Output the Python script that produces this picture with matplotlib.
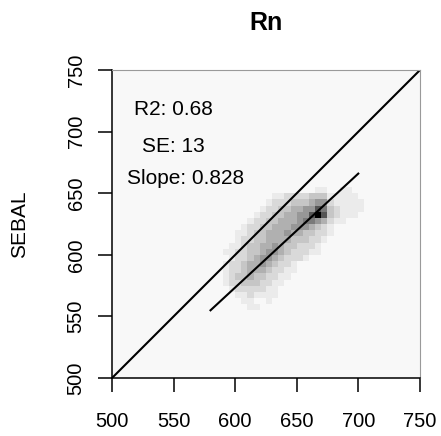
#!/usr/bin/env python

import numpy as np
import matplotlib
matplotlib.use('Agg')
import matplotlib.pyplot as plt
from matplotlib.colors import ListedColormap, BoundaryNorm

title = 'Rn'

# density bins, 5 units wide
# each row: (y bin start, x bin start, digits 0-9 for consecutive x bins)
density_rows = [
    (650, 665, '11'),
    (650, 685, '11'),
    (645, 630, '11222233311111'),
    (640, 625, '1222333455211111'),
    (635, 620, '12233445576321111'),
    (630, 615, '12233445579732111'),
    (625, 610, '1223344456654211'),
    (620, 605, '122334445554321'),
    (615, 600, '1123344454433221'),
    (610, 600, '122334444333221'),
    (605, 595, '112334454332221'),
    (600, 590, '1122334554322211'),
    (595, 595, '1223455432221'),
    (590, 590, '122344543221'),
    (585, 590, '122344432211'),
    (580, 590, '12334332211'),
    (575, 590, '1223332211'),
    (570, 595, '12222211'),
    (565, 600, '1121111'),
    (560, 605, '11001'),
    (555, 610, '11'),
]

one_to_one = [500, 750]
fit_x = [580, 700]
fit_y = [555, 666]

stats = ['R2: 0.68', 'SE: 13', 'Slope: 0.828']
stats_x = [550, 550, 560]
stats_y = [718, 688, 662]

ticks = [500, 550, 600, 650, 700, 750]

edges = np.arange(500, 755, 5)
grid = np.zeros((len(edges) - 1, len(edges) - 1))
for y0, x0, digits in density_rows:
    j = (y0 - 500) // 5
    for i, d in enumerate(digits):
        grid[j, (x0 - 500) // 5 + i] = int(d)

grays = ['#ebebeb', '#d9d9d9', '#c6c6c6', '#b0b0b0', '#979797',
         '#7a7a7a', '#555555', '#333333', '#000000']
cmap = ListedColormap(grays)
norm = BoundaryNorm(np.arange(0.5, 10.5, 1), cmap.N)

plt.rcParams['font.family'] = ['Liberation Sans', 'DejaVu Sans']

fig = plt.figure(figsize=(4.41, 4.36), dpi=100)
ax = fig.add_axes([0.254, 0.133, 0.698, 0.706])
ax.set_facecolor('#f8f8f8')

ax.pcolormesh(edges, edges, np.ma.masked_equal(grid, 0), cmap=cmap, norm=norm)
ax.plot(one_to_one, one_to_one, color='black', lw=1.5)
ax.plot(fit_x, fit_y, color='black', lw=1.5)

for s, x, y in zip(stats, stats_x, stats_y):
    ax.text(x, y, s, ha='center', va='center', fontsize=15)

ax.set_xlim(500, 750)
ax.set_ylim(500, 750)
ax.set_xticks(ticks)
ax.set_yticks(ticks)
ax.tick_params(length=10, width=1.1, labelsize=14.5, direction='out')
ax.tick_params(axis='x', pad=14.5)
ax.tick_params(axis='y', pad=9)
for lab in ax.get_yticklabels():
    lab.set_rotation(90)
    lab.set_va('center')

ax.spines['left'].set_linewidth(1.1)
ax.spines['bottom'].set_linewidth(1.1)
for side in ('top', 'right'):
    ax.spines[side].set_color('#9a9a9a')
    ax.spines[side].set_linewidth(0.8)

ax.set_ylabel('SEBAL', fontsize=15, labelpad=27)
ax.set_title(title, fontsize=18, fontweight='bold', pad=29)

fig.savefig('out.png', dpi=100)
